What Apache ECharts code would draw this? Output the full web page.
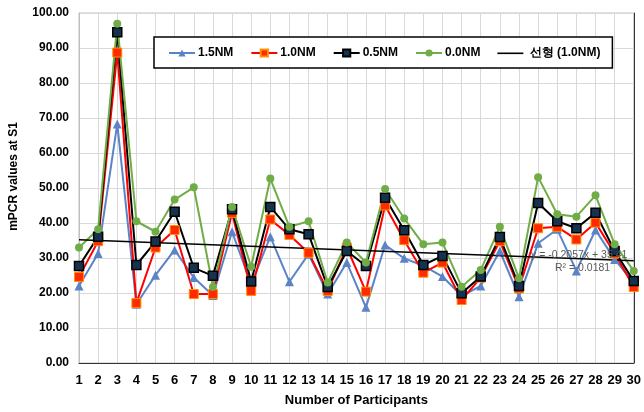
<!DOCTYPE html>
<html><head><meta charset="utf-8">
<script src="https://cdn.jsdelivr.net/npm/echarts@6/dist/echarts.min.js"></script>
<style>html,body{margin:0;padding:0;background:#fff}#c{width:644px;height:412px}</style>
</head><body><div id="c"></div>
<script>
const categories = ['1','2','3','4','5','6','7','8','9','10','11','12','13','14','15','16','17','18','19','20','21','22','23','24','25','26','27','28','29','30'];
const nm15 = [22.0,31.3,68.3,16.8,25.1,32.3,24.4,19.3,37.5,22.5,36.1,23.2,31.1,19.7,28.7,15.9,33.7,29.9,27.8,24.7,19.2,22.0,32.0,18.9,34.2,38.2,26.3,38.0,29.6,23.0];
const nm10 = [24.6,34.8,88.7,17.1,33.0,38.0,19.7,19.7,42.9,20.6,41.0,36.6,31.5,20.6,33.0,20.4,45.0,35.1,25.8,28.7,18.0,24.4,34.8,21.3,38.5,38.9,35.3,40.1,31.3,21.7];
const nm05 = [27.7,36.1,94.5,28.0,34.7,43.2,27.2,24.9,43.9,23.3,44.6,38.2,36.8,21.7,32.0,27.7,47.2,37.9,28.0,30.6,19.9,24.7,36.0,22.0,45.7,40.5,38.5,42.9,32.0,23.4];
const nm00 = [33.0,38.2,96.9,40.5,37.5,46.7,50.2,21.7,44.6,27.5,52.7,38.9,40.5,23.0,34.4,28.7,49.7,41.3,33.9,34.4,21.8,26.6,38.9,24.2,53.1,42.5,41.8,47.9,33.9,26.3];
// linear trend of 1.0NM read at first and last participant
const trendEnds = [35.2, 29.2];
const seriesNames = ['1.5NM','1.0NM','0.5NM','0.0NM','선형 (1.0NM)'];
const trendLabel = ['y = -0.2057x + 35.41', 'R\u00B2 = 0.0181'];

const trend = categories.map((c,i)=> i===0 ? trendEnds[0] : (i===categories.length-1 ? trendEnds[1] : null));
const font = 'Liberation Sans, Arial, sans-serif';
const chart = echarts.init(document.getElementById('c'));
chart.setOption({
  animation:false,
  backgroundColor:'#fff',
  grid:{left:79,right:7,top:13,bottom:48,show:true,borderColor:'#bfbfbf',borderWidth:1},
  legend:{
    left:154, top:37,
    data:[
      {name:seriesNames[0]},{name:seriesNames[1]},{name:seriesNames[2]},{name:seriesNames[3]},
      {name:seriesNames[4],icon:'path://M0,0 L0,0 M0,4 L26,4 L26,5.6 L0,5.6 Z M26,9 L26,9'}
    ],
    formatter: n => n === seriesNames[4] ? ' ' + n : n,
    backgroundColor:'#fff', borderColor:'#000', borderWidth:1.5,
    padding:[10,12,9,14], itemWidth:26, itemHeight:9, itemGap:17,
    textStyle:{fontFamily:font,fontWeight:'bold',fontSize:12,color:'#000',padding:[0,0,0,-2]}
  },
  xAxis:[{
    type:'category', data:categories, boundaryGap:false,
    axisLine:{lineStyle:{color:'#bfbfbf'}}, axisTick:{show:false},
    axisLabel:{color:'#000',fontFamily:font,fontWeight:'bold',fontSize:13,margin:11,interval:0},
    splitLine:{show:true,lineStyle:{color:'#d9d9d9'}},
    name:'Number of Participants', nameLocation:'middle', nameGap:31,
    nameTextStyle:{color:'#000',fontFamily:font,fontWeight:'bold',fontSize:13}
  },{
    type:'category', data:categories, boundaryGap:false, position:'top',
    axisLine:{lineStyle:{color:'#333',width:1}}, axisTick:{show:false}, axisLabel:{show:false}, splitLine:{show:false}
  }],
  yAxis:[{
    type:'value', min:0, max:100, interval:10,
    axisLine:{show:true,lineStyle:{color:'#bfbfbf'}},
    axisLabel:{color:'#000',fontFamily:font,fontWeight:'bold',fontSize:12,margin:10,formatter:v=>v.toFixed(2)},
    splitLine:{lineStyle:{color:'#d9d9d9'}},
    name:'mPCR values at S1', nameLocation:'middle', nameGap:59,
    nameTextStyle:{color:'#000',fontFamily:font,fontWeight:'bold',fontSize:12,padding:[0,0,0,23]}
  },{
    type:'value', min:0, max:100, interval:10, position:'right',
    axisLine:{show:true,lineStyle:{color:'#333',width:1}}, axisTick:{show:false}, axisLabel:{show:false}, splitLine:{show:false}
  }],
  series:[
    {name:seriesNames[0],type:'line',data:nm15,symbol:'triangle',symbolSize:9,
      lineStyle:{color:'#5b83c7',width:2},itemStyle:{color:'#5b83c7'}},
    {name:seriesNames[1],type:'line',data:nm10,symbol:'rect',symbolSize:9,
      lineStyle:{color:'#ff0000',width:2},itemStyle:{color:'#ff2a00',borderColor:'#ff9000',borderWidth:1}},
    {name:seriesNames[2],type:'line',data:nm05,symbol:'rect',symbolSize:9,
      lineStyle:{color:'#000',width:2},itemStyle:{color:'#17324f',borderColor:'#000',borderWidth:1.5}},
    {name:seriesNames[3],type:'line',data:nm00,symbol:'circle',symbolSize:8,
      lineStyle:{color:'#70ad47',width:2},itemStyle:{color:'#70ad47'}},
    {name:seriesNames[4],type:'line',data:trend,connectNulls:true,symbol:'none',
      lineStyle:{color:'#000',width:1.5},itemStyle:{color:'#000'}}
  ],
  graphic:[
    {type:'text',left:531,top:250,z:100,style:{text:trendLabel[0],fill:'#595959',font:'10.5px '+font}},
    {type:'text',left:555,top:263,z:100,style:{text:trendLabel[1],fill:'#595959',font:'10.5px '+font}}
  ]
});
</script></body></html>
